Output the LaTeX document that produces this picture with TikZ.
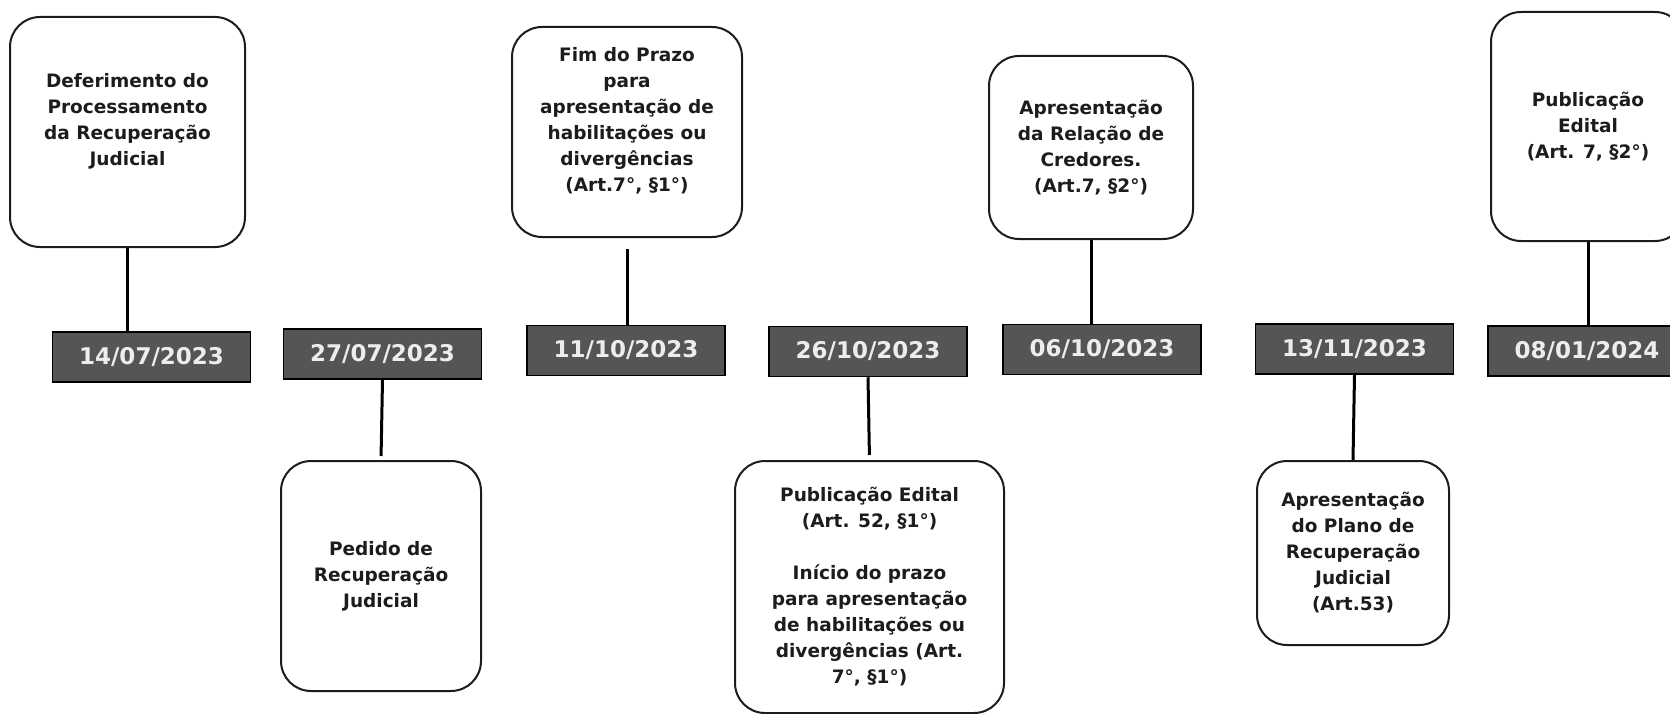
\documentclass[tikz,border=0pt]{standalone}
\usepackage{fontspec}
\setmainfont{DejaVu Sans}
\definecolor{tilegray}{HTML}{555555}
\definecolor{tileink}{HTML}{EDEDED}
\definecolor{boxink}{HTML}{1C1C1C}
\tikzset{
  datetile/.style={fill=tilegray, draw=black, line width=1.5pt, minimum width=198pt, minimum height=50pt,
    text=tileink, font={\bfseries\fontsize{23}{26}\selectfont}},
  eventbox/.style={draw=boxink, line width=2pt, rounded corners=30pt, fill=white, align=center,
    text=boxink, font={\bfseries\fontsize{18.5}{26}\selectfont}},
  link/.style={draw=black, line width=3pt}
}
\begin{document}
\begin{tikzpicture}[x=1pt, y=-1pt]
  \useasboundingbox (0,0) rectangle (1670,714);
  % date tiles
  \foreach \x/\y/\d [count=\n] in {151.5/357/{14/07/2023}, 382.5/354/{27/07/2023}, 626/350.5/{11/10/2023},
      868/351.5/{26/10/2023}, 1102/349.5/{06/10/2023}, 1354.5/349/{13/11/2023}, 1587/351/{08/01/2024}} {
    \node[datetile] (date\n) at (\x,\y) {\d};
  }
  % event boxes above the line
  \node[eventbox, minimum width=235pt, minimum height=230pt] (deferimento) at (127.5,132)
    {Deferimento do\\Processamento\\da Recuperação\\Judicial\\~};
  \node[eventbox, minimum width=230pt, minimum height=210pt] (fimprazo) at (627,132)
    {Fim do Prazo\\para\\apresentação de\\habilitações ou\\divergências\\(Art.7°, §1°)\\~};
  \node[eventbox, minimum width=204pt, minimum height=183pt] (relacao) at (1091,147.5)
    {Apresentação\\da Relação de\\Credores.\\(Art.7, §2°)};
  \node[eventbox, minimum width=194pt, minimum height=229pt] (edital) at (1588,126.5)
    {Publicação\\Edital\\(Art. 7, §2°)};
  % event boxes below the line
  \node[eventbox, minimum width=200pt, minimum height=230pt] (pedido) at (381,576)
    {Pedido de\\Recuperação\\Judicial};
  \node[eventbox, minimum width=269pt, minimum height=252pt] (publicacao) at (869.5,587)
    {Publicação Edital\\(Art. 52, §1°)\\[26pt]Início do prazo\\para apresentação\\de habilitações ou\\divergências (Art.\\7°, §1°)};
  \node[eventbox, minimum width=192pt, minimum height=184pt] (plano) at (1353,553)
    {Apresentação\\do Plano de\\Recuperação\\Judicial\\(Art.53)};
  % connectors
  \draw[link] (deferimento.south) -- (deferimento.south |- date1.north);
  \draw[link, shorten >=4pt] (date2.south) -- (pedido.north);
  \draw[link, shorten <=11pt] (fimprazo.south) -- (fimprazo.south |- date3.north);
  \draw[link, shorten >=5pt] (date4.south) -- (publicacao.north);
  \draw[link] (relacao.south) -- (relacao.south |- date5.north);
  \draw[link] (date6.south) -- (plano.north);
  \draw[link] (edital.south) -- (edital.south |- date7.north);
\end{tikzpicture}
\end{document}
